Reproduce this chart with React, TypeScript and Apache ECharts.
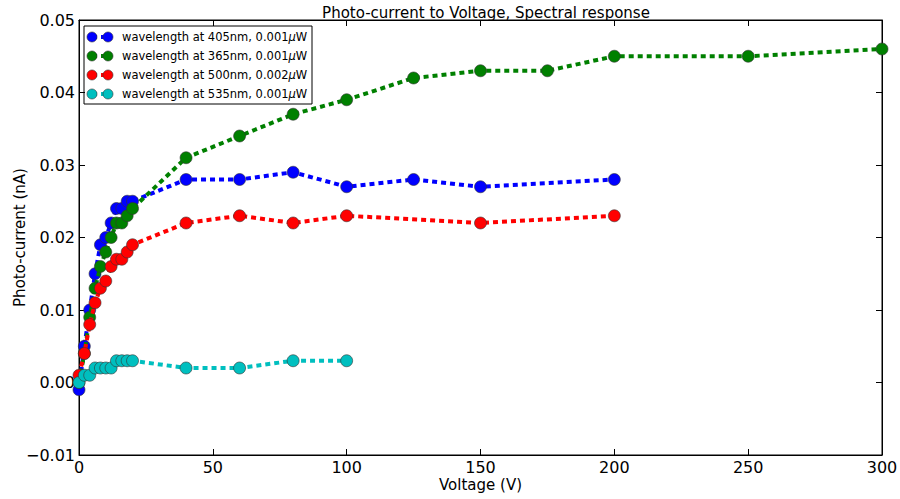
import React, { useEffect, useRef } from "react";
import * as echarts from "echarts";

const titleText = "Photo-current to Voltage, Spectral response";
const xName = "Voltage (V)";
const yName = "Photo-current (nA)";

const v405 = [0, 2, 4, 6, 8, 10, 12, 14, 16, 18, 20, 40, 60, 80, 100, 125, 150, 200];
const i405 = [-0.001, 0.005, 0.010, 0.015, 0.019, 0.020, 0.022, 0.024, 0.024, 0.025, 0.025, 0.028, 0.028, 0.029, 0.027, 0.028, 0.027, 0.028];

const v365 = [0, 2, 4, 6, 8, 10, 12, 14, 16, 18, 20, 40, 60, 80, 100, 125, 150, 175, 200, 250, 300];
const i365 = [0.000, 0.004, 0.009, 0.013, 0.016, 0.018, 0.020, 0.022, 0.022, 0.023, 0.024, 0.031, 0.034, 0.037, 0.039, 0.042, 0.043, 0.043, 0.045, 0.045, 0.046];

const v500 = [0, 2, 4, 6, 8, 10, 12, 14, 16, 18, 20, 40, 60, 80, 100, 150, 200];
const i500 = [0.001, 0.004, 0.008, 0.011, 0.013, 0.014, 0.016, 0.017, 0.017, 0.018, 0.019, 0.022, 0.023, 0.022, 0.023, 0.022, 0.023];

const v535 = [0, 2, 4, 6, 8, 10, 12, 14, 16, 18, 20, 40, 60, 80, 100];
const i535 = [0.000, 0.001, 0.001, 0.002, 0.002, 0.002, 0.002, 0.003, 0.003, 0.003, 0.003, 0.002, 0.002, 0.003, 0.003];

const seriesNames = ["405nm, 0.001", "365nm, 0.001", "500nm, 0.002", "535nm, 0.001"];
const seriesColors = ["#0000ff", "#008000", "#ff0000", "#00bfbf"];

const FONT = "DejaVu Sans";

function zip(xs: number[], ys: number[]) {
  return xs.map((x, i) => [x, ys[i]]);
}

export default function App() {
  const ref = useRef<HTMLDivElement>(null);
  useEffect(() => {
    if (!ref.current) return;
    const chart = echarts.init(ref.current, null, { renderer: "svg" });
    const datasets = [zip(v405, i405), zip(v365, i365), zip(v500, i500), zip(v535, i535)];

    const series = datasets.map((d, k) => ({
      type: "line",
      name: seriesNames[k],
      data: d,
      xAxisIndex: 0,
      yAxisIndex: 0,
      symbol: "circle",
      symbolSize: 12,
      lineStyle: { color: seriesColors[k], width: 4, type: [5, 4] },
      itemStyle: { color: seriesColors[k], borderColor: "#333", borderWidth: 0.6 },
      z: 2 + k,
    }));

    const legendX = 84, legendY = 26, rowH = 19;
    const legendChildren: any[] = [
      {
        type: "rect",
        shape: { x: legendX, y: legendY, width: 228, height: 78 },
        style: { fill: "#fff", stroke: "#000", lineWidth: 1 },
      },
    ];
    seriesNames.forEach((n, k) => {
      const cy = legendY + 11 + k * rowH;
      legendChildren.push(
        { type: "line", shape: { x1: 92, y1: cy, x2: 108, y2: cy }, style: { stroke: seriesColors[k], lineWidth: 4, lineDash: [5, 4] } },
        { type: "circle", shape: { cx: 92, cy, r: 5 }, style: { fill: seriesColors[k], stroke: "#333", lineWidth: 0.6 } },
        { type: "circle", shape: { cx: 108, cy, r: 5 }, style: { fill: seriesColors[k], stroke: "#333", lineWidth: 0.6 } },
        {
          type: "text",
          x: 122,
          y: cy,
          style: {
            text: "wavelength at " + n + "{i|μ}W",
            rich: { i: { fontStyle: "italic", fontFamily: FONT, fontSize: 11.5, fill: "#000" } },
            fontFamily: FONT,
            fontSize: 11.5,
            fill: "#000",
            verticalAlign: "middle",
          },
        }
      );
    });

    const yFmt = (v: number) => (v < 0 ? "\u2212" + Math.abs(v).toFixed(2) : v.toFixed(2));
    const tick = { show: true, inside: true, length: 6, lineStyle: { color: "#000" } };
    const line = { show: true, onZero: false, lineStyle: { color: "#000" } };

    chart.setOption({
      animation: false,
      backgroundColor: "#fff",
      title: {
        text: titleText,
        left: 481,
        top: 0,
        textAlign: "center",
        textStyle: { fontFamily: FONT, fontSize: 15, fontWeight: "normal", color: "#000" },
      },
      grid: {
        left: 79, right: 18, top: 20, bottom: 44,
        outerBoundsMode: "none",
        containLabel: false,
        show: true, borderColor: "#000", borderWidth: 1,
      },
      xAxis: [
        {
          type: "value",
          min: 0,
          max: 300,
          interval: 50,
          position: "bottom",
          name: xName,
          nameLocation: "middle",
          nameGap: 22,
          nameMoveOverlap: false,
          nameTextStyle: { fontFamily: FONT, fontSize: 15, color: "#000" },
          axisLine: line,
          axisTick: tick,
          axisLabel: { fontFamily: FONT, fontSize: 16, color: "#000", margin: 4 },
          splitLine: { show: false },
        },
        {
          type: "value",
          min: 0,
          max: 300,
          interval: 50,
          position: "top",
          axisLine: line,
          axisTick: tick,
          axisLabel: { show: false },
          splitLine: { show: false },
        },
      ],
      yAxis: [
        {
          type: "value",
          min: -0.01,
          max: 0.05,
          interval: 0.01,
          position: "left",
          name: yName,
          nameLocation: "middle",
          nameGap: 52,
          nameMoveOverlap: false,
          nameTextStyle: { fontFamily: FONT, fontSize: 15, color: "#000" },
          axisLine: line,
          axisTick: tick,
          axisLabel: { fontFamily: FONT, fontSize: 16, color: "#000", margin: 4, formatter: yFmt },
          splitLine: { show: false },
        },
        {
          type: "value",
          min: -0.01,
          max: 0.05,
          interval: 0.01,
          position: "right",
          axisLine: line,
          axisTick: tick,
          axisLabel: { show: false },
          splitLine: { show: false },
        },
      ],
      series,
      graphic: [{ type: "group", z: 100, children: legendChildren }],
    });
    return () => chart.dispose();
  }, []);
  return <div ref={ref} style={{ position: "fixed", left: 0, top: 0, width: 900, height: 499 }} />;
}
